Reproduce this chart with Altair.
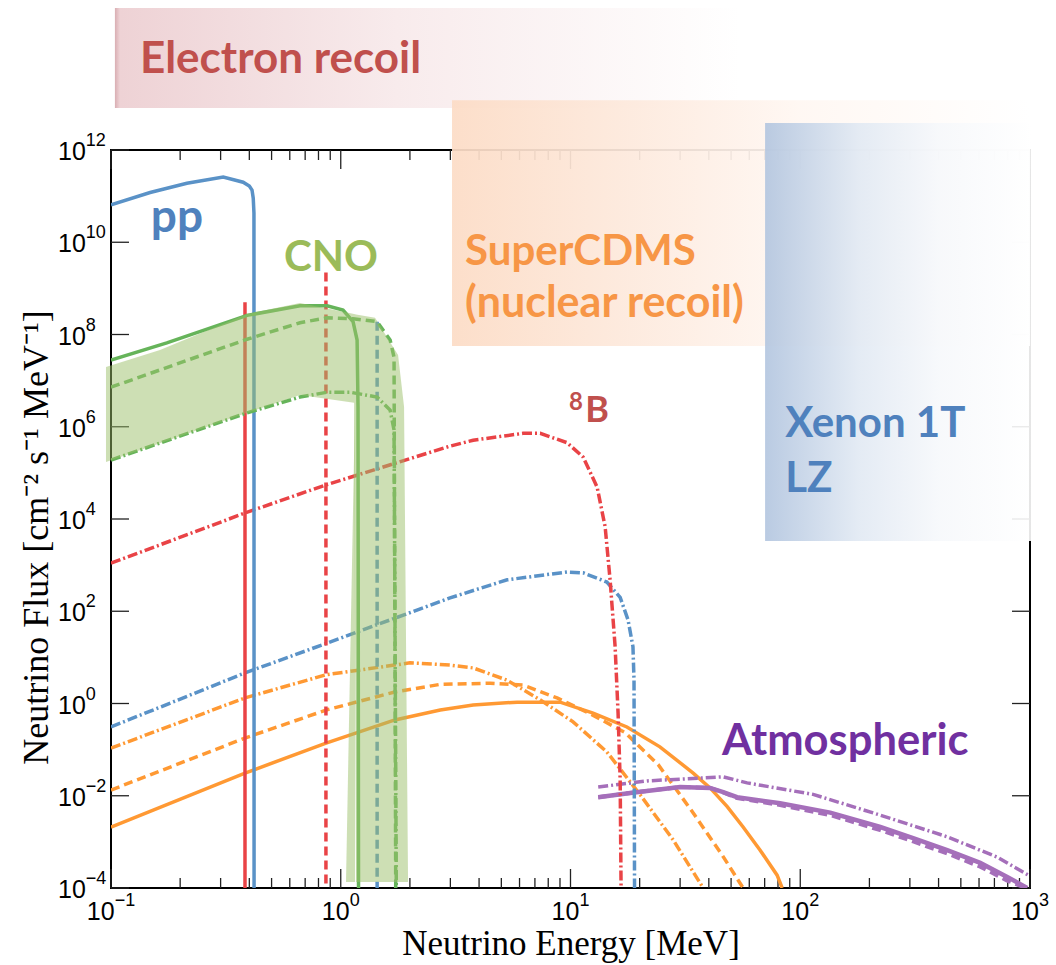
import altair as alt
import pandas as pd

# ---------------- axis ranges and ticks ----------------
X_DOMAIN = [0.1, 1000]
Y_DOMAIN = [1e-4, 1e12]
x_major = [0.1, 1, 10, 100, 1000]
x_exp = ['\u22121', '0', '1', '2', '3']
x_minor = [0.2, 0.3, 0.4, 0.5, 0.6, 0.7, 0.8, 0.9,
           2, 3, 4, 5, 6, 7, 8, 9,
           20, 30, 40, 50, 60, 70, 80, 90,
           200, 300, 400, 500, 600, 700, 800, 900]
y_major = [1e-4, 1e-2, 1, 1e2, 1e4, 1e6, 1e8, 1e10, 1e12]
y_exp = ['\u22124', '\u22122', '0', '2', '4', '6', '8', '10', '12']

# ---------------- curves (energy MeV, flux) ----------------
pp_E = [0.1, 0.148, 0.214, 0.308, 0.376, 0.40, 0.411, 0.416, 0.419, 0.4195]
pp_F = [6.5e10, 1.2e11, 1.9e11, 2.6e11, 2.0e11, 1.65e11, 1.35e11, 9.0e10, 4.3e10, 1e-4]

be7a_E = [0.383, 0.383]
be7a_F = [5.0e8, 1e-4]
be7b_E = [0.862, 0.862]
be7b_F = [2.2e9, 1e-4]
pep_E = [1.44, 1.44]
pep_F = [1.9e8, 1e-4]

n13_E = [0.1, 0.175, 0.391, 0.665, 0.872, 1.023, 1.131, 1.178, 1.189, 1.195]
n13_F = [2.8e7, 6.6e7, 2.6e8, 4.2e8, 4.2e8, 3.4e8, 1.9e8, 7.6e7, 2.7e6, 1e-4]

o15_E = [0.1, 0.391, 0.665, 0.872, 1.131, 1.439, 1.64, 1.706, 1.735]
o15_F = [7.2e6, 7.9e7, 1.8e8, 2.3e8, 2.2e8, 1.9e8, 7.6e7, 3.2e7, 1e-4]

f17_E = [0.1, 0.391, 0.665, 0.872, 1.098, 1.439, 1.64, 1.706, 1.745]
f17_F = [1.9e5, 2.0e6, 4.4e6, 5.6e6, 5.6e6, 4.4e6, 2.3e6, 8.5e5, 1e-4]

b8_E = [0.1, 0.383, 0.863, 2.99, 3.77, 6.22, 7.38, 9.67, 11.35, 13.06, 14.15,
        14.87, 15.64, 16.11, 16.45, 16.6]
b8_F = [1.1e3, 1.35e4, 5.5e4, 3.8e5, 5.1e5, 7.2e5, 7.2e5, 4.5e5, 2.2e5, 4.9e4,
        6.8e3, 4.8e2, 1.7e1, 0.62, 0.022, 1e-4]

hep_E = [0.1, 0.383, 0.863, 2.99, 5.30, 9.67, 11.35, 14.4, 16.45, 17.8, 18.7, 18.9, 19.0]
hep_F = [0.31, 4.6, 20, 195, 480, 710, 680, 430, 200, 65, 17, 3.2, 1e-4]

dsnb1_E = [0.1, 0.383, 0.863, 1.72, 2.71, 3.77, 5.86, 9.01, 12.54, 17.6, 24.5,
           34.2, 40.5, 48.1, 56.4, 66.9, 79.3, 83.4]
dsnb1_F = [2.1e-3, 0.031, 0.138, 0.44, 0.72, 0.93, 1.07, 1.07, 0.62, 0.31, 0.115,
           0.031, 0.0148, 5.8e-3, 2.1e-3, 6.6e-4, 1.9e-4, 1e-4]

dsnb2_E = [0.1, 0.383, 0.863, 1.72, 2.71, 4.47, 6.22, 8.74, 12.17, 17.3, 24.1,
           33.5, 45.7, 56.4]
dsnb2_F = [0.0133, 0.178, 0.72, 1.78, 2.6, 2.75, 2.5, 1.32, 0.60, 0.234, 0.047,
           4.9e-3, 5.2e-4, 1e-4]

dsnb3_E = [0.1, 0.383, 0.863, 2.0, 2.99, 3.77, 5.30, 7.37, 10.26, 14.4, 20.1, 28.0, 37.8]
dsnb3_F = [0.108, 1.32, 4.2, 7.6, 6.8, 5.9, 3.2, 1.2, 0.40, 0.089, 0.0105, 1.1e-3, 1e-4]

atm1_E = [13.2, 18.2, 30.0, 40.5, 46.2, 53.1, 81.7, 135, 223, 310, 436, 607, 796, 972]
atm1_F = [9.3e-3, 0.0115, 0.0155, 0.0148, 0.012, 9.3e-3, 6.9e-3, 4.3e-3, 2.1e-3,
          1.2e-3, 6.6e-4, 3.5e-4, 1.74e-4, 1e-4]
atm2_E = [13.2, 18.2, 30.0, 40.5, 46.2, 53.1, 81.7, 135, 223, 310, 436, 607, 796, 960]
atm2_F = [9.3e-3, 0.0115, 0.0155, 0.0148, 0.0118, 8.9e-3, 6.3e-3, 3.8e-3, 1.8e-3,
          1.02e-3, 5.6e-4, 2.9e-4, 1.45e-4, 1e-4]
atm3_E = [13.2, 21.6, 46.2, 58.7, 113.8, 223, 436, 719, 982]
atm3_F = [0.0155, 0.021, 0.0257, 0.019, 0.0107, 3.8e-3, 1.29e-3, 4.7e-4, 1.9e-4]

# CNO uncertainty band (upper / lower edges)
bandA_E = [0.0951, 0.1634, 0.391, 0.665, 1.143, 1.166, 1.41, 1.776, 1.886, 1.963]
bandA_hi = [1.97e7, 4.6e7, 2.8e8, 4.8e8, 2.8e8, 2.7e8, 2.3e8, 3.6e7, 2.7e6, 1.35e-4]
bandA_lo = [1.72e5, 4.4e5, 2.0e6, 4.9e6, 3.3e6, 1.35e-4, 1.35e-4, 1.35e-4, 1.35e-4, 1.35e-4]
bandB_E = [1.054, 1.154]
bandB_hi = [1.35e-4, 3.3e6]
bandB_lo = [1.35e-4, 1.35e-4]

# detector regions (shaded boxes)
er_box = dict(E=[0.104], E2=[54.7], F=[1.2e15], F2=[8.1e12])
cdms_box = dict(E=[3.05], E2=[1000], F=[1.2e13], F2=[5.6e7])
xe_box = dict(E=[70.3], E2=[1022], F=[3.85e12], F2=[3.33e3])

# ---------------- encodings ----------------
xscale = alt.Scale(type='log', domain=X_DOMAIN, nice=False)
yscale = alt.Scale(type='log', domain=Y_DOMAIN, nice=False)

xaxis = alt.Axis(values=x_major, labels=False, ticks=False, domain=False, grid=False,
                 title='Neutrino Energy [MeV]', titleFont='Liberation Serif',
                 titleFontSize=35, titleFontWeight='normal', titleColor='black',
                 titleBaseline='alphabetic', titleY=66)
yaxis = alt.Axis(values=y_major, labels=False, ticks=False, domain=False, grid=False,
                 title='Neutrino Flux [cm\u207b\u00b2 s\u207b\u00b9 MeV\u207b\u00b9]',
                 titleFont='Liberation Serif', titleFontSize=36,
                 titleFontWeight='normal', titleColor='black',
                 titleBaseline='alphabetic', titleX=-64, titleY=387)

X = alt.X('E:Q', scale=xscale, axis=xaxis)
Y = alt.Y('F:Q', scale=yscale, axis=yaxis)

W, H = 919, 738


def df(E, F):
    return pd.DataFrame({'E': E, 'F': F, 'i': list(range(len(E)))})


def line(E, F, color, dash=None, width=3.5):
    kw = dict(color=color, strokeWidth=width, clip=True)
    if dash:
        kw['strokeDash'] = dash
    return alt.Chart(df(E, F)).mark_line(**kw).encode(x=X, y=Y, order='i:Q')


DASH = [9, 5]
DASHDOT = [10, 3, 2, 3]
RED, BLUE, GREEN, ORANGE, PURPLE = '#e94346', '#5a92c7', '#66b45a', '#ff9933', '#a56fba'

layers = []

# tick marks (inside, all four sides)
tick_x = lambda vals: pd.DataFrame({'E': vals})
tick_y = pd.DataFrame({'F': y_major})
TK = dict(color='#222', strokeWidth=1.3)
layers += [
    alt.Chart(tick_x(x_major)).mark_rule(**TK).encode(x=X, y=alt.value(H), y2=alt.value(H - 19)),
    alt.Chart(tick_x(x_minor)).mark_rule(**TK).encode(x=X, y=alt.value(H), y2=alt.value(H - 10)),
    alt.Chart(tick_x(x_major)).mark_rule(**TK).encode(x=X, y=alt.value(0), y2=alt.value(19)),
    alt.Chart(tick_x(x_minor)).mark_rule(**TK).encode(x=X, y=alt.value(0), y2=alt.value(10)),
    alt.Chart(tick_y).mark_rule(**TK).encode(y=Y, x=alt.value(0), x2=alt.value(18)),
    alt.Chart(tick_y).mark_rule(**TK).encode(y=Y, x=alt.value(W), x2=alt.value(W - 18)),
]

# tick labels: "10" plus a raised exponent
BASE_FS, EXP_FS = 25, 18
DIGIT = 0.556
w10 = 2 * DIGIT * BASE_FS


def exp_width(s):
    return sum((0.584 if c == '\u2212' else DIGIT) for c in s) * EXP_FS


LAB = dict(font='Liberation Sans', color='black', baseline='middle')
for v, e in zip(x_major, x_exp):
    total = w10 + exp_width(e)
    d = pd.DataFrame({'E': [v], 'b': ['10'], 'e': [e]})
    layers.append(alt.Chart(d).mark_text(align='left', fontSize=BASE_FS, dx=-total / 2, **LAB)
                  .encode(x=X, y=alt.value(H + 24), text='b:N'))
    layers.append(alt.Chart(d).mark_text(align='left', fontSize=EXP_FS, dx=-total / 2 + w10, **LAB)
                  .encode(x=X, y=alt.value(H + 13), text='e:N'))

ylab = pd.DataFrame({'F': y_major, 'b': ['10'] * len(y_major), 'e': y_exp})
layers.append(alt.Chart(ylab).mark_text(align='left', fontSize=BASE_FS, dy=2, **LAB)
              .encode(x=alt.value(-53), y=Y, text='b:N'))
layers.append(alt.Chart(ylab).mark_text(align='left', fontSize=EXP_FS, dy=-9, **LAB)
              .encode(x=alt.value(-53 + w10), y=Y, text='e:N'))

# curves
layers += [
    line(dsnb1_E, dsnb1_F, ORANGE),
    line(dsnb2_E, dsnb2_F, ORANGE, DASH),
    line(dsnb3_E, dsnb3_F, ORANGE, DASHDOT),
    line(atm2_E, atm2_F, PURPLE, DASH, 4),
    line(atm1_E, atm1_F, PURPLE, None, 4.5),
    line(atm3_E, atm3_F, PURPLE, DASHDOT, 3.5),
    line(hep_E, hep_F, BLUE, DASHDOT),
    line(b8_E, b8_F, RED, DASHDOT),
    line(pp_E, pp_F, BLUE),
    line(be7a_E, be7a_F, RED),
    line(be7b_E, be7b_F, RED, DASH),
    line(pep_E, pep_F, BLUE, DASH),
    line(n13_E, n13_F, GREEN),
    line(o15_E, o15_F, GREEN, DASH),
    line(f17_E, f17_F, GREEN, DASHDOT),
]

# CNO band
bandA = pd.DataFrame({'E': bandA_E, 'F': bandA_hi, 'F2': bandA_lo})
bandB = pd.DataFrame({'E': bandB_E, 'F': bandB_hi, 'F2': bandB_lo})
for b in (bandA, bandB):
    layers.append(alt.Chart(b).mark_area(color='#9cc06a', opacity=0.5, clip=False)
                  .encode(x=X, y=Y, y2='F2:Q'))


def grad(stops):
    return {"gradient": "linear", "x1": 0, "x2": 1, "y1": 0, "y2": 0,
            "stops": [{"offset": o, "color": c} for o, c in stops]}


def box(d, stops, opacity):
    return (alt.Chart(pd.DataFrame(d))
            .mark_rect(color=grad(stops), opacity=opacity, clip=False)
            .encode(x=X, x2='E2:Q', y=Y, y2='F2:Q'))


layers += [
    box(er_box, [(0, '#d9aeb3'), (0.008, '#eed2d5'), (0.45, '#f8ebec'), (1, '#ffffff')], 1.0),
    box(cdms_box, [(0, '#fcdcc6'), (0.3, '#fde9dc'), (0.6, '#fff7f2'), (1, '#ffffff')], 0.93),
    box(xe_box, [(0, '#b2c5df'), (0.35, '#e1e9f3'), (0.65, '#f6f8fb'), (1, '#ffffff')], 0.9),
]


def txt(E, F, t, color, size):
    d = pd.DataFrame({'E': [E], 'F': [F], 't': [t]})
    return (alt.Chart(d).mark_text(align='left', baseline='alphabetic', font='Lato',
                                   fontWeight='bold', fontSize=size, color=color)
            .encode(x=X, y=Y, text='t:N'))


layers += [
    txt(0.1337, 4.7e13, 'Electron recoil', '#c0504d', 44),
    txt(0.149, 1.67e10, 'pp', '#4f81bd', 46),
    txt(0.566, 2.38e9, 'CNO', '#9bbb59', 42),
    txt(3.476, 3.2e9, 'SuperCDMS', '#f79646', 42),
    txt(3.476, 2.39e8, '(nuclear recoil)', '#f79646', 43),
    txt(86.0, 6.0e5, 'Xenon 1T', '#4f81bd', 42),
    txt(86.0, 3.85e4, 'LZ', '#4f81bd', 42),
    txt(11.6, 1.27e6, 'B', '#c0504d', 36),
    txt(9.86, 2.3e6, '8', '#c0504d', 24),
    txt(45.7, 0.0764, 'Atmospheric', '#7030a0', 43.5),
]

chart = (alt.layer(*layers)
         .properties(width=W, height=H,
                     autosize=alt.AutoSizeParams(type='none'),
                     padding={'left': 111, 'top': 150, 'right': 26, 'bottom': 77},
                     background='white')
         .configure_view(stroke='black', strokeWidth=2))

chart.save("out.html", embed_options={"renderer": "svg", "actions": False})
